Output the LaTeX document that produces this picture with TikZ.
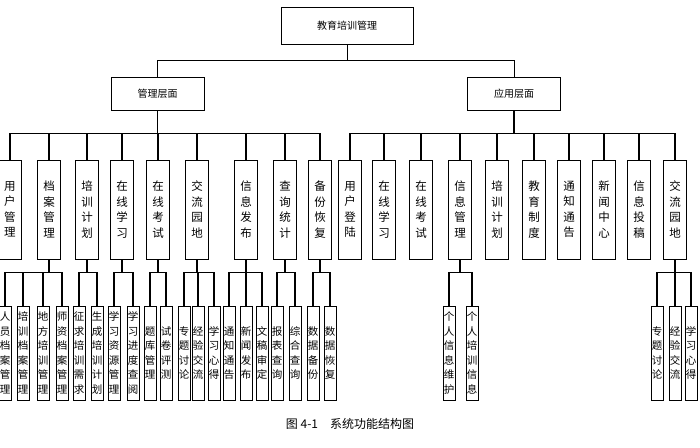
\documentclass[tikz,border=0pt]{standalone}
\usepackage{fontspec}
\setmainfont{Noto Sans CJK SC}
\begin{document}
\begin{tikzpicture}[x=1pt,y=-1pt]
\tikzset{topbox/.style = {draw,line width=0.7pt,minimum width=132pt,minimum height=37pt,font=\fontsize{10}{12}\selectfont}}
\tikzset{layerbox/.style = {draw,line width=0.7pt,minimum width=93pt,minimum height=33pt,font=\fontsize{10}{12}\selectfont}}
\tikzset{funcbox/.style = {draw,line width=0.7pt,minimum width=23pt,minimum height=99pt,inner sep=0pt,align=center,font=\fontsize{11.5}{15.5}\selectfont}}
\tikzset{leafbox/.style = {draw,line width=0.7pt,minimum width=12pt,minimum height=94pt,inner sep=0pt,align=center,font=\fontsize{10.5}{14.5}\selectfont}}
\tikzset{thin/.style = {line width=0.7pt}}
\tikzset{thick/.style = {line width=1.4pt}}
\useasboundingbox (0,0) rectangle (700,447);

% root and layers
\node[topbox] (root) at (347,25.5) {教育培训管理};
\node[layerbox] (mgr) at (157.5,93.5) {管理层面};
\node[layerbox] (app) at (514,93.5) {应用层面};
\draw[thin] (root.south) -- ++(0,16) -| (mgr.north);
\draw[thin] (root.south) -- ++(0,16) -| (app.north);

% management functions
\foreach \name/\x/\txt in {mA/10/用\\户\\管\\理, mB/49/档\\案\\管\\理, mC/87/培\\训\\计\\划,
  mD/122/在\\线\\学\\习, mE/158/在\\线\\考\\试, mF/197/交\\流\\园\\地,
  mG/246/信\\息\\发\\布, mH/285/查\\询\\统\\计, mI/320/备\\份\\恢\\复} {
  \node[funcbox] (\name) at (\x,209.5) {\txt};
  \draw[thick] (mgr.south) -- ++(0,23) -| (\name.north);
}

% application functions
\foreach \name/\x/\txt in {aA/350/用\\户\\登\\陆, aB/384/在\\线\\学\\习, aC/421/在\\线\\考\\试,
  aD/460/信\\息\\管\\理, aE/497/培\\训\\计\\划, aF/534/教\\育\\制\\度,
  aG/569/通\\知\\通\\告, aH/604/新\\闻\\中\\心, aI/639/信\\息\\投\\稿, aJ/675/交\\流\\园\\地} {
  \node[funcbox] (\name) at (\x,209.5) {\txt};
  \draw[thick] (app.south) -- ++(0,23) -| (\name.north);
}

% leaves
\foreach \up/\name/\x/\txt in {
  mB/lA/5/人\\员\\档\\案\\管\\理, mB/lB/23/培\\训\\档\\案\\管\\理,
  mB/lC/43/地\\方\\培\\训\\管\\理, mB/lD/62/师\\资\\档\\案\\管\\理,
  mC/lE/79/征\\求\\培\\训\\需\\求, mC/lF/97/生\\成\\培\\训\\计\\划,
  mD/lG/114/学\\习\\资\\源\\管\\理, mD/lH/133/学\\习\\进\\度\\查\\阅,
  mE/lI/150/题\\库\\管\\理, mE/lJ/166/试\\卷\\评\\测,
  mF/lK/184/专\\题\\讨\\论, mF/lL/198/经\\验\\交\\流, mF/lM/214/学\\习\\心\\得,
  mG/lN/229/通\\知\\通\\告, mG/lO/246/新\\闻\\发\\布, mG/lP/262/文\\稿\\审\\定,
  mH/lQ/277/报\\表\\查\\询, mH/lR/295/综\\合\\查\\询,
  mI/lS/313/数\\据\\备\\份, mI/lT/330/数\\据\\恢\\复,
  aD/lU/449/个\\人\\信\\息\\维\\护, aD/lV/472/个\\人\\培\\训\\信\\息,
  aJ/lW/657/专\\题\\讨\\论, aJ/lX/675/经\\验\\交\\流, aJ/lY/691/学\\习\\心\\得} {
  \node[leafbox] (\name) at (\x,353) {\txt};
  \draw[thick] (\up.south) -- ++(0,13) -| (\name.north);
}

\node[font=\fontsize{12}{14}\selectfont] (cap) at (350,424) {图 4-1\quad 系统功能结构图};
\end{tikzpicture}
\end{document}
